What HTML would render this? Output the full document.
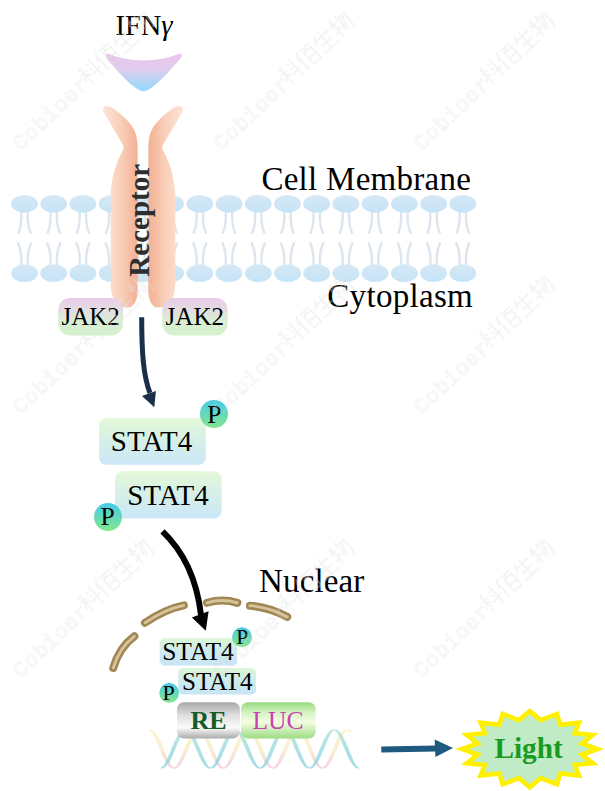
<!DOCTYPE html>
<html><head><meta charset="utf-8">
<style>
html,body{margin:0;padding:0;background:#fff;width:605px;height:791px;overflow:hidden}
svg{display:block}
text{font-family:"Liberation Serif",serif}
text.wm{font-family:"Liberation Mono",monospace}
</style></head>
<body>
<svg width="605" height="791" viewBox="0 0 605 791">
<defs>
  <linearGradient id="ifn" x1="0" y1="0" x2="0" y2="1">
    <stop offset="0" stop-color="#e8c6ea"/><stop offset="0.4" stop-color="#e2ccee"/><stop offset="1" stop-color="#8edcf8"/>
  </linearGradient>
  <linearGradient id="recL" x1="0" y1="0" x2="1" y2="0">
    <stop offset="0" stop-color="#fde4d6"/><stop offset="0.5" stop-color="#f9d0ba"/><stop offset="1" stop-color="#f2b092"/>
  </linearGradient>
  <linearGradient id="recR" x1="0" y1="0" x2="1" y2="0">
    <stop offset="0" stop-color="#f2b092"/><stop offset="0.5" stop-color="#f9d0ba"/><stop offset="1" stop-color="#fde4d6"/>
  </linearGradient>
  <linearGradient id="head" x1="0" y1="0" x2="0" y2="1">
    <stop offset="0" stop-color="#d6e8f4"/><stop offset="1" stop-color="#c5e4f8"/>
  </linearGradient>
  <linearGradient id="jak" x1="0" y1="0" x2="0" y2="1">
    <stop offset="0" stop-color="#eacbe9"/><stop offset="0.35" stop-color="#e2dee2"/><stop offset="0.6" stop-color="#d9eed3"/><stop offset="1" stop-color="#d4f2cc"/>
  </linearGradient>
  <linearGradient id="stat" x1="0" y1="0" x2="0" y2="1">
    <stop offset="0" stop-color="#e4f9d8"/><stop offset="0.5" stop-color="#d6efe8"/><stop offset="1" stop-color="#cbe7f8"/>
  </linearGradient>
  <linearGradient id="pc" x1="0" y1="0" x2="0" y2="1">
    <stop offset="0" stop-color="#44cbe9"/><stop offset="1" stop-color="#84e68c"/>
  </linearGradient>
  <linearGradient id="re" x1="0" y1="0" x2="0" y2="1">
    <stop offset="0" stop-color="#a8a8a8"/><stop offset="0.35" stop-color="#dedede"/><stop offset="0.7" stop-color="#fafafa"/><stop offset="1" stop-color="#ababab"/>
  </linearGradient>
  <linearGradient id="luc" x1="0" y1="0" x2="0" y2="1">
    <stop offset="0" stop-color="#98da80"/><stop offset="0.3" stop-color="#d8f4c4"/><stop offset="0.55" stop-color="#f6fce2"/><stop offset="1" stop-color="#9cdc82"/>
  </linearGradient>
  <linearGradient id="dnaY" x1="0" y1="0" x2="0" y2="1">
    <stop offset="0" stop-color="#fbf4c0"/><stop offset="1" stop-color="#f6cfe0"/>
  </linearGradient>
  <linearGradient id="stats" x1="0" y1="0" x2="0" y2="1">
    <stop offset="0" stop-color="#ddf7d6"/><stop offset="0.4" stop-color="#d0ecea"/><stop offset="1" stop-color="#c7e5f6"/>
  </linearGradient>
</defs>


<g>
<path d="M21.3,208.8 L21.3,219.8 Q20.9,227.8 18.1,233.8" fill="none" stroke="#dde6ef" stroke-width="2.4"/>
<path d="M21.3,268.2 L21.3,257.2 Q20.9,249.2 17.7,242.2" fill="none" stroke="#dde6ef" stroke-width="2.4"/>
<path d="M27.7,208.8 L27.7,219.8 Q28.1,227.8 30.9,233.8" fill="none" stroke="#dde6ef" stroke-width="2.4"/>
<path d="M27.7,268.2 L27.7,257.2 Q28.1,249.2 31.3,242.2" fill="none" stroke="#dde6ef" stroke-width="2.4"/>
<ellipse cx="24.5" cy="203.8" rx="13.4" ry="8.9" fill="url(#head)"/>
<ellipse cx="24.5" cy="273.2" rx="13.4" ry="8.9" fill="url(#head)"/>
<path d="M50.5,208.8 L50.5,219.8 Q50.1,227.8 47.3,233.8" fill="none" stroke="#dde6ef" stroke-width="2.4"/>
<path d="M50.5,268.2 L50.5,257.2 Q50.1,249.2 46.9,242.2" fill="none" stroke="#dde6ef" stroke-width="2.4"/>
<path d="M56.9,208.8 L56.9,219.8 Q57.3,227.8 60.1,233.8" fill="none" stroke="#dde6ef" stroke-width="2.4"/>
<path d="M56.9,268.2 L56.9,257.2 Q57.3,249.2 60.5,242.2" fill="none" stroke="#dde6ef" stroke-width="2.4"/>
<ellipse cx="53.7" cy="203.8" rx="13.4" ry="8.9" fill="url(#head)"/>
<ellipse cx="53.7" cy="273.2" rx="13.4" ry="8.9" fill="url(#head)"/>
<path d="M79.7,208.8 L79.7,219.8 Q79.3,227.8 76.5,233.8" fill="none" stroke="#dde6ef" stroke-width="2.4"/>
<path d="M79.7,268.2 L79.7,257.2 Q79.3,249.2 76.1,242.2" fill="none" stroke="#dde6ef" stroke-width="2.4"/>
<path d="M86.1,208.8 L86.1,219.8 Q86.5,227.8 89.3,233.8" fill="none" stroke="#dde6ef" stroke-width="2.4"/>
<path d="M86.1,268.2 L86.1,257.2 Q86.5,249.2 89.7,242.2" fill="none" stroke="#dde6ef" stroke-width="2.4"/>
<ellipse cx="82.9" cy="203.8" rx="13.4" ry="8.9" fill="url(#head)"/>
<ellipse cx="82.9" cy="273.2" rx="13.4" ry="8.9" fill="url(#head)"/>
<path d="M109.0,208.8 L109.0,219.8 Q108.6,227.8 105.8,233.8" fill="none" stroke="#dde6ef" stroke-width="2.4"/>
<path d="M109.0,268.2 L109.0,257.2 Q108.6,249.2 105.4,242.2" fill="none" stroke="#dde6ef" stroke-width="2.4"/>
<path d="M115.4,208.8 L115.4,219.8 Q115.8,227.8 118.6,233.8" fill="none" stroke="#dde6ef" stroke-width="2.4"/>
<path d="M115.4,268.2 L115.4,257.2 Q115.8,249.2 119.0,242.2" fill="none" stroke="#dde6ef" stroke-width="2.4"/>
<ellipse cx="112.2" cy="203.8" rx="13.4" ry="8.9" fill="url(#head)"/>
<ellipse cx="112.2" cy="273.2" rx="13.4" ry="8.9" fill="url(#head)"/>
<path d="M138.2,208.8 L138.2,219.8 Q137.8,227.8 135.0,233.8" fill="none" stroke="#dde6ef" stroke-width="2.4"/>
<path d="M138.2,268.2 L138.2,257.2 Q137.8,249.2 134.6,242.2" fill="none" stroke="#dde6ef" stroke-width="2.4"/>
<path d="M144.6,208.8 L144.6,219.8 Q145.0,227.8 147.8,233.8" fill="none" stroke="#dde6ef" stroke-width="2.4"/>
<path d="M144.6,268.2 L144.6,257.2 Q145.0,249.2 148.2,242.2" fill="none" stroke="#dde6ef" stroke-width="2.4"/>
<ellipse cx="141.4" cy="203.8" rx="13.4" ry="8.9" fill="url(#head)"/>
<ellipse cx="141.4" cy="273.2" rx="13.4" ry="8.9" fill="url(#head)"/>
<path d="M167.4,208.8 L167.4,219.8 Q167.0,227.8 164.2,233.8" fill="none" stroke="#dde6ef" stroke-width="2.4"/>
<path d="M167.4,268.2 L167.4,257.2 Q167.0,249.2 163.8,242.2" fill="none" stroke="#dde6ef" stroke-width="2.4"/>
<path d="M173.8,208.8 L173.8,219.8 Q174.2,227.8 177.0,233.8" fill="none" stroke="#dde6ef" stroke-width="2.4"/>
<path d="M173.8,268.2 L173.8,257.2 Q174.2,249.2 177.4,242.2" fill="none" stroke="#dde6ef" stroke-width="2.4"/>
<ellipse cx="170.6" cy="203.8" rx="13.4" ry="8.9" fill="url(#head)"/>
<ellipse cx="170.6" cy="273.2" rx="13.4" ry="8.9" fill="url(#head)"/>
<path d="M196.6,208.8 L196.6,219.8 Q196.2,227.8 193.4,233.8" fill="none" stroke="#dde6ef" stroke-width="2.4"/>
<path d="M196.6,268.2 L196.6,257.2 Q196.2,249.2 193.0,242.2" fill="none" stroke="#dde6ef" stroke-width="2.4"/>
<path d="M203.0,208.8 L203.0,219.8 Q203.4,227.8 206.2,233.8" fill="none" stroke="#dde6ef" stroke-width="2.4"/>
<path d="M203.0,268.2 L203.0,257.2 Q203.4,249.2 206.6,242.2" fill="none" stroke="#dde6ef" stroke-width="2.4"/>
<ellipse cx="199.8" cy="203.8" rx="13.4" ry="8.9" fill="url(#head)"/>
<ellipse cx="199.8" cy="273.2" rx="13.4" ry="8.9" fill="url(#head)"/>
<path d="M225.8,208.8 L225.8,219.8 Q225.4,227.8 222.6,233.8" fill="none" stroke="#dde6ef" stroke-width="2.4"/>
<path d="M225.8,268.2 L225.8,257.2 Q225.4,249.2 222.2,242.2" fill="none" stroke="#dde6ef" stroke-width="2.4"/>
<path d="M232.2,208.8 L232.2,219.8 Q232.6,227.8 235.4,233.8" fill="none" stroke="#dde6ef" stroke-width="2.4"/>
<path d="M232.2,268.2 L232.2,257.2 Q232.6,249.2 235.8,242.2" fill="none" stroke="#dde6ef" stroke-width="2.4"/>
<ellipse cx="229.0" cy="203.8" rx="13.4" ry="8.9" fill="url(#head)"/>
<ellipse cx="229.0" cy="273.2" rx="13.4" ry="8.9" fill="url(#head)"/>
<path d="M255.1,208.8 L255.1,219.8 Q254.7,227.8 251.9,233.8" fill="none" stroke="#dde6ef" stroke-width="2.4"/>
<path d="M255.1,268.2 L255.1,257.2 Q254.7,249.2 251.5,242.2" fill="none" stroke="#dde6ef" stroke-width="2.4"/>
<path d="M261.5,208.8 L261.5,219.8 Q261.9,227.8 264.7,233.8" fill="none" stroke="#dde6ef" stroke-width="2.4"/>
<path d="M261.5,268.2 L261.5,257.2 Q261.9,249.2 265.1,242.2" fill="none" stroke="#dde6ef" stroke-width="2.4"/>
<ellipse cx="258.3" cy="203.8" rx="13.4" ry="8.9" fill="url(#head)"/>
<ellipse cx="258.3" cy="273.2" rx="13.4" ry="8.9" fill="url(#head)"/>
<path d="M284.3,208.8 L284.3,219.8 Q283.9,227.8 281.1,233.8" fill="none" stroke="#dde6ef" stroke-width="2.4"/>
<path d="M284.3,268.2 L284.3,257.2 Q283.9,249.2 280.7,242.2" fill="none" stroke="#dde6ef" stroke-width="2.4"/>
<path d="M290.7,208.8 L290.7,219.8 Q291.1,227.8 293.9,233.8" fill="none" stroke="#dde6ef" stroke-width="2.4"/>
<path d="M290.7,268.2 L290.7,257.2 Q291.1,249.2 294.3,242.2" fill="none" stroke="#dde6ef" stroke-width="2.4"/>
<ellipse cx="287.5" cy="203.8" rx="13.4" ry="8.9" fill="url(#head)"/>
<ellipse cx="287.5" cy="273.2" rx="13.4" ry="8.9" fill="url(#head)"/>
<path d="M313.5,208.8 L313.5,219.8 Q313.1,227.8 310.3,233.8" fill="none" stroke="#dde6ef" stroke-width="2.4"/>
<path d="M313.5,268.2 L313.5,257.2 Q313.1,249.2 309.9,242.2" fill="none" stroke="#dde6ef" stroke-width="2.4"/>
<path d="M319.9,208.8 L319.9,219.8 Q320.3,227.8 323.1,233.8" fill="none" stroke="#dde6ef" stroke-width="2.4"/>
<path d="M319.9,268.2 L319.9,257.2 Q320.3,249.2 323.5,242.2" fill="none" stroke="#dde6ef" stroke-width="2.4"/>
<ellipse cx="316.7" cy="203.8" rx="13.4" ry="8.9" fill="url(#head)"/>
<ellipse cx="316.7" cy="273.2" rx="13.4" ry="8.9" fill="url(#head)"/>
<path d="M342.7,208.8 L342.7,219.8 Q342.3,227.8 339.5,233.8" fill="none" stroke="#dde6ef" stroke-width="2.4"/>
<path d="M342.7,268.2 L342.7,257.2 Q342.3,249.2 339.1,242.2" fill="none" stroke="#dde6ef" stroke-width="2.4"/>
<path d="M349.1,208.8 L349.1,219.8 Q349.5,227.8 352.3,233.8" fill="none" stroke="#dde6ef" stroke-width="2.4"/>
<path d="M349.1,268.2 L349.1,257.2 Q349.5,249.2 352.7,242.2" fill="none" stroke="#dde6ef" stroke-width="2.4"/>
<ellipse cx="345.9" cy="203.8" rx="13.4" ry="8.9" fill="url(#head)"/>
<ellipse cx="345.9" cy="273.2" rx="13.4" ry="8.9" fill="url(#head)"/>
<path d="M371.9,208.8 L371.9,219.8 Q371.5,227.8 368.7,233.8" fill="none" stroke="#dde6ef" stroke-width="2.4"/>
<path d="M371.9,268.2 L371.9,257.2 Q371.5,249.2 368.3,242.2" fill="none" stroke="#dde6ef" stroke-width="2.4"/>
<path d="M378.3,208.8 L378.3,219.8 Q378.7,227.8 381.5,233.8" fill="none" stroke="#dde6ef" stroke-width="2.4"/>
<path d="M378.3,268.2 L378.3,257.2 Q378.7,249.2 381.9,242.2" fill="none" stroke="#dde6ef" stroke-width="2.4"/>
<ellipse cx="375.1" cy="203.8" rx="13.4" ry="8.9" fill="url(#head)"/>
<ellipse cx="375.1" cy="273.2" rx="13.4" ry="8.9" fill="url(#head)"/>
<path d="M401.2,208.8 L401.2,219.8 Q400.8,227.8 398.0,233.8" fill="none" stroke="#dde6ef" stroke-width="2.4"/>
<path d="M401.2,268.2 L401.2,257.2 Q400.8,249.2 397.6,242.2" fill="none" stroke="#dde6ef" stroke-width="2.4"/>
<path d="M407.6,208.8 L407.6,219.8 Q408.0,227.8 410.8,233.8" fill="none" stroke="#dde6ef" stroke-width="2.4"/>
<path d="M407.6,268.2 L407.6,257.2 Q408.0,249.2 411.2,242.2" fill="none" stroke="#dde6ef" stroke-width="2.4"/>
<ellipse cx="404.4" cy="203.8" rx="13.4" ry="8.9" fill="url(#head)"/>
<ellipse cx="404.4" cy="273.2" rx="13.4" ry="8.9" fill="url(#head)"/>
<path d="M430.4,208.8 L430.4,219.8 Q430.0,227.8 427.2,233.8" fill="none" stroke="#dde6ef" stroke-width="2.4"/>
<path d="M430.4,268.2 L430.4,257.2 Q430.0,249.2 426.8,242.2" fill="none" stroke="#dde6ef" stroke-width="2.4"/>
<path d="M436.8,208.8 L436.8,219.8 Q437.2,227.8 440.0,233.8" fill="none" stroke="#dde6ef" stroke-width="2.4"/>
<path d="M436.8,268.2 L436.8,257.2 Q437.2,249.2 440.4,242.2" fill="none" stroke="#dde6ef" stroke-width="2.4"/>
<ellipse cx="433.6" cy="203.8" rx="13.4" ry="8.9" fill="url(#head)"/>
<ellipse cx="433.6" cy="273.2" rx="13.4" ry="8.9" fill="url(#head)"/>
<path d="M459.6,208.8 L459.6,219.8 Q459.2,227.8 456.4,233.8" fill="none" stroke="#dde6ef" stroke-width="2.4"/>
<path d="M459.6,268.2 L459.6,257.2 Q459.2,249.2 456.0,242.2" fill="none" stroke="#dde6ef" stroke-width="2.4"/>
<path d="M466.0,208.8 L466.0,219.8 Q466.4,227.8 469.2,233.8" fill="none" stroke="#dde6ef" stroke-width="2.4"/>
<path d="M466.0,268.2 L466.0,257.2 Q466.4,249.2 469.6,242.2" fill="none" stroke="#dde6ef" stroke-width="2.4"/>
<ellipse cx="462.8" cy="203.8" rx="13.4" ry="8.9" fill="url(#head)"/>
<ellipse cx="462.8" cy="273.2" rx="13.4" ry="8.9" fill="url(#head)"/>
</g>

<!-- IFN gamma -->
<text x="115.4" y="35" font-size="28.5">IFN<tspan font-style="italic">γ</tspan></text>
<path d="M107.5,53.5 Q143,67.5 180.5,53.5 Q183,55 180,59 C168,73 153,90 143.5,91.5 C134,90 119,73 107,59 Q104.5,55 107.5,53.5 Z" fill="url(#ifn)"/>

<!-- receptor -->
<path d="M103.5,112.0 Q101.5,106.5 106.6,106.0 Q110.0,106.0 114.0,109.0 C125.0,117.0 132.0,124.0 135.5,133.0 Q137.6,139.0 137.6,150.0 L137.6,290.0 C137.6,300.0 134.0,307.5 128.0,307.5 C119.0,307.5 110.7,300.0 110.7,285.0 L110.7,195.0 C111.5,172.0 119.0,158.0 122.5,151.0 Q124.6,148.0 122.8,144.5 L103.5,112.0 Z" fill="url(#recL)"/>
<path d="M182.4,112.0 Q184.4,106.5 179.3,106.0 Q175.9,106.0 171.9,109.0 C160.9,117.0 153.9,124.0 150.4,133.0 Q148.3,139.0 148.3,150.0 L148.3,290.0 C148.3,300.0 151.9,307.5 157.9,307.5 C166.9,307.5 175.2,300.0 175.2,285.0 L175.2,195.0 C174.4,172.0 166.9,158.0 163.4,151.0 Q161.3,148.0 163.1,144.5 L182.4,112.0 Z" fill="url(#recR)"/>
<text transform="translate(148.6,220.3) rotate(-90)" text-anchor="middle" font-size="29" font-weight="bold" fill="#2e2e2e">Receptor</text>

<text x="261.4" y="190" font-size="33" letter-spacing="0.28">Cell Membrane</text>
<text x="327.3" y="307.2" font-size="33" letter-spacing="0.3">Cytoplasm</text>

<!-- JAK2 -->
<rect x="58.2" y="297.9" width="64.8" height="37.7" rx="12" fill="url(#jak)"/>
<rect x="162.3" y="297.9" width="65.4" height="37.7" rx="12" fill="url(#jak)"/>
<text x="61.5" y="325.2" font-size="25">JAK2</text>
<text x="165.6" y="325.2" font-size="25">JAK2</text>

<!-- arrow 1 -->
<path d="M141.7,317.3 C141.7,350 143,375 150,393" fill="none" stroke="#1b2f4b" stroke-width="5"/>
<path d="M142,396 L155.9,390.9 L154.3,407.3 Z" fill="#1b2f4b"/>

<!-- STAT4 big -->
<rect x="99.1" y="418.2" width="106.7" height="46.6" rx="7" fill="url(#stat)"/>
<text x="110.8" y="451.3" font-size="29">STAT4</text>
<circle cx="214" cy="414" r="14" fill="url(#pc)"/>
<text x="214.3" y="422.6" font-size="25.5" text-anchor="middle">P</text>

<rect x="115" y="471.2" width="106.6" height="47.3" rx="8" fill="url(#stat)"/>
<text x="127.2" y="504.6" font-size="29">STAT4</text>
<circle cx="108" cy="517" r="14" fill="url(#pc)"/>
<text x="107.7" y="525.4" font-size="25.5" text-anchor="middle">P</text>

<!-- black arrow -->
<path d="M162.5,531.3 C179,547 196,572 201,615" fill="none" stroke="#000" stroke-width="6"/>
<path d="M191.9,617.6 L208.6,611.3 L205.8,630.8 Z" fill="#000"/>

<text x="259" y="592.2" font-size="33" letter-spacing="0.15">Nuclear</text>

<!-- nuclear envelope dashes -->
<g fill="none" stroke-linecap="round">
  <g stroke="#a08753" stroke-width="8">
    <path d="M113.3,668 Q119.15,647.45 134.4,636.3"/>
    <path d="M145,622.8 Q165.2,609.1 183.8,605.4"/>
    <path d="M207,602.8 Q222,598.2 237.4,602.8"/>
    <path d="M249.9,605.7 Q269,607.1 287.3,616.9"/>
  </g>
  <g stroke="#d6c49a" stroke-width="2.8">
    <path d="M113.3,668 Q119.15,647.45 134.4,636.3"/>
    <path d="M145,622.8 Q165.2,609.1 183.8,605.4"/>
    <path d="M207,602.8 Q222,598.2 237.4,602.8"/>
    <path d="M249.9,605.7 Q269,607.1 287.3,616.9"/>
  </g>
</g>

<!-- small STAT4 -->
<rect x="159.6" y="638.2" width="77.3" height="27.3" rx="5" fill="url(#stats)"/>
<text x="162.2" y="660.3" font-size="25.5">STAT4</text>
<circle cx="242" cy="637.2" r="10" fill="url(#pc)"/>
<text x="242.2" y="644.4" font-size="21.5" text-anchor="middle">P</text>
<rect x="178.3" y="668" width="77.8" height="26.4" rx="5" fill="url(#stats)"/>
<text x="182.1" y="689.6" font-size="25.1">STAT4</text>

<linearGradient id="dnaP" gradientUnits="userSpaceOnUse" x1="0" y1="729" x2="0" y2="769"><stop offset="0" stop-color="#f8f0b4"/><stop offset="0.5" stop-color="#f8ecc8"/><stop offset="1" stop-color="#f2c4da"/></linearGradient>
<linearGradient id="dnaC" gradientUnits="userSpaceOnUse" x1="0" y1="729" x2="0" y2="769"><stop offset="0" stop-color="#a6dcd4"/><stop offset="1" stop-color="#7ccfe0"/></linearGradient>
<path d="M149.8,730.7 L150.2,731.0 L150.6,731.2 L151.0,731.5 L151.4,731.9 L151.7,732.4 L152.1,732.9 L152.5,733.5 L152.9,734.1 L153.4,734.8 L153.8,735.6 L154.2,736.4 L154.6,737.3 L155.1,738.2 L155.5,739.2 L155.9,740.2 L156.4,741.3 L156.9,742.4 L157.3,743.5 L157.8,744.7 L158.3,745.8 L158.8,747.0 L159.2,748.2 L159.7,749.4 L160.2,750.6 L160.8,751.8 L161.3,753.0 L161.8,754.2 L162.3,755.4 L162.8,756.5 L163.4,757.6 L163.9,758.7 L164.5,759.8 L165.0,760.8 L165.6,761.7 L166.2,762.6 L166.7,763.5 L167.3,764.3 L167.9,765.1 L168.5,765.8 L169.1,766.4 L169.7,766.9 L170.3,767.4 L170.9,767.8 L171.5,768.2 L172.2,768.4 L172.8,768.5 L173.4,768.6 L174.0,768.5 L174.6,768.6 L175.2,768.5 L175.8,768.4 L176.5,768.2 L177.1,767.8 L177.7,767.4 L178.3,766.9 L178.9,766.4 L179.5,765.8 L180.1,765.1 L180.7,764.3 L181.3,763.5 L181.8,762.6 L182.4,761.7 L183.0,760.8 L183.5,759.8 L184.1,758.7 L184.6,757.6 L185.2,756.5 L185.7,755.4 L186.2,754.2 L186.7,753.0 L187.2,751.8 L187.8,750.6 L188.3,749.4 L188.8,748.2 L189.2,747.0 L189.7,745.8 L190.2,744.7 L190.7,743.5 L191.1,742.4 L191.6,741.3 L192.1,740.2 L192.5,739.2 L192.9,738.2 L193.4,737.3 L193.8,736.4 L194.2,735.6 L194.6,734.8 L195.1,734.1 L195.5,733.5 L195.9,732.9 L196.3,732.4 L196.6,731.9 L197.0,731.5 L197.4,731.2 L197.8,731.0 L198.2,730.7 L198.5,730.6 L199.0,730.6 L199.3,730.7 L199.7,731.0 L200.1,731.2 L200.5,731.5 L200.9,731.9 L201.2,732.4 L201.6,732.9 L202.0,733.5 L202.4,734.1 L202.9,734.8 L203.3,735.6 L203.7,736.4 L204.1,737.3 L204.6,738.2 L205.0,739.2 L205.4,740.2 L205.9,741.3 L206.4,742.4 L206.8,743.5 L207.3,744.7 L207.8,745.8 L208.3,747.0 L208.7,748.2 L209.2,749.4 L209.7,750.6 L210.3,751.8 L210.8,753.0 L211.3,754.2 L211.8,755.4 L212.3,756.5 L212.9,757.6 L213.4,758.7 L214.0,759.8 L214.5,760.8 L215.1,761.7 L215.7,762.6 L216.2,763.5 L216.8,764.3 L217.4,765.1 L218.0,765.8 L218.6,766.4 L219.2,766.9 L219.8,767.4 L220.4,767.8 L221.0,768.2 L221.7,768.4 L222.3,768.5 L222.9,768.6 L223.5,768.5 L224.1,768.6 L224.7,768.5 L225.3,768.4 L226.0,768.2 L226.6,767.8 L227.2,767.4 L227.8,766.9 L228.4,766.4 L229.0,765.8 L229.6,765.1 L230.2,764.3 L230.8,763.5 L231.3,762.6 L231.9,761.7 L232.5,760.8 L233.0,759.8 L233.6,758.7 L234.1,757.6 L234.7,756.5 L235.2,755.4 L235.7,754.2 L236.2,753.0 L236.7,751.8 L237.3,750.6 L237.8,749.4 L238.3,748.2 L238.7,747.0 L239.2,745.8 L239.7,744.7 L240.2,743.5 L240.6,742.4 L241.1,741.3 L241.6,740.2 L242.0,739.2 L242.4,738.2 L242.9,737.3 L243.3,736.4 L243.7,735.6 L244.1,734.8 L244.6,734.1 L245.0,733.5 L245.4,732.9 L245.8,732.4 L246.1,731.9 L246.5,731.5 L246.9,731.2 L247.3,731.0 L247.7,730.7 L248.0,730.6 L248.5,730.6 L248.8,730.7 L249.2,731.0 L249.6,731.2 L250.0,731.5 L250.4,731.9 L250.7,732.4 L251.1,732.9 L251.5,733.5 L251.9,734.1 L252.4,734.8 L252.8,735.6 L253.2,736.4 L253.6,737.3 L254.1,738.2 L254.5,739.2 L254.9,740.2 L255.4,741.3 L255.9,742.4 L256.3,743.5 L256.8,744.7 L257.3,745.8 L257.8,747.0 L258.2,748.2 L258.7,749.4 L259.2,750.6 L259.8,751.8 L260.3,753.0 L260.8,754.2 L261.3,755.4 L261.8,756.5 L262.4,757.6 L262.9,758.7 L263.5,759.8 L264.0,760.8 L264.6,761.7 L265.2,762.6 L265.7,763.5 L266.3,764.3 L266.9,765.1 L267.5,765.8 L268.1,766.4 L268.7,766.9 L269.3,767.4 L269.9,767.8 L270.5,768.2 L271.2,768.4 L271.8,768.5 L272.4,768.6 L273.0,768.5 L273.6,768.6 L274.2,768.5 L274.8,768.4 L275.5,768.2 L276.1,767.8 L276.7,767.4 L277.3,766.9 L277.9,766.4 L278.5,765.8 L279.1,765.1 L279.7,764.3 L280.3,763.5 L280.8,762.6 L281.4,761.7 L282.0,760.8 L282.5,759.8 L283.1,758.7 L283.6,757.6 L284.2,756.5 L284.7,755.4 L285.2,754.2 L285.7,753.0 L286.2,751.8 L286.8,750.6 L287.3,749.4 L287.8,748.2 L288.2,747.0 L288.7,745.8 L289.2,744.7 L289.7,743.5 L290.1,742.4 L290.6,741.3 L291.1,740.2 L291.5,739.2 L291.9,738.2 L292.4,737.3 L292.8,736.4 L293.2,735.6 L293.6,734.8 L294.1,734.1 L294.5,733.5 L294.9,732.9 L295.3,732.4 L295.6,731.9 L296.0,731.5 L296.4,731.2 L296.8,731.0 L297.2,730.7 L297.5,730.6 L298.0,730.6 L298.3,730.7 L298.7,731.0 L299.1,731.2 L299.5,731.5 L299.9,731.9 L300.2,732.4 L300.6,732.9 L301.0,733.5 L301.4,734.1 L301.9,734.8 L302.3,735.6 L302.7,736.4 L303.1,737.3 L303.6,738.2 L304.0,739.2 L304.4,740.2 L304.9,741.3 L305.4,742.4 L305.8,743.5 L306.3,744.7 L306.8,745.8 L307.3,747.0 L307.7,748.2 L308.2,749.4 L308.7,750.6 L309.3,751.8 L309.8,753.0 L310.3,754.2 L310.8,755.4 L311.3,756.5 L311.9,757.6 L312.4,758.7 L313.0,759.8 L313.5,760.8 L314.1,761.7 L314.7,762.6 L315.2,763.5 L315.8,764.3 L316.4,765.1 L317.0,765.8 L317.6,766.4 L318.2,766.9 L318.8,767.4 L319.4,767.8 L320.0,768.2 L320.7,768.4 L321.3,768.5 L321.9,768.6 L322.5,768.5 L323.1,768.6 L323.7,768.5 L324.3,768.4 L325.0,768.2 L325.6,767.8 L326.2,767.4 L326.8,766.9 L327.4,766.4 L328.0,765.8 L328.6,765.1 L329.2,764.3 L329.8,763.5 L330.3,762.6 L330.9,761.7 L331.5,760.8 L332.0,759.8 L332.6,758.7 L333.1,757.6 L333.7,756.5 L334.2,755.4 L334.7,754.2 L335.2,753.0 L335.7,751.8 L336.3,750.6 L336.8,749.4 L337.3,748.2 L337.7,747.0 L338.2,745.8 L338.7,744.7 L339.2,743.5 L339.6,742.4 L340.1,741.3 L340.6,740.2 L341.0,739.2 L341.4,738.2 L341.9,737.3 L342.3,736.4 L342.7,735.6 L343.1,734.8 L343.6,734.1 L344.0,733.5 L344.4,732.9 L344.8,732.4 L345.1,731.9 L345.5,731.5 L345.9,731.2 L346.3,731.0 L346.7,730.7 L347.0,730.6 L347.5,730.6 L347.8,730.7 L348.2,731.0 L348.6,731.2 L349.0,731.5 L349.4,731.9 L349.7,732.4 L350.1,732.9 L351.9,731.3 L351.3,730.8 L350.6,730.4 L350.0,730.0 L349.4,729.7 L348.8,729.5 L348.2,729.4 L347.5,729.4 L347.0,729.4 L346.3,729.4 L345.7,729.5 L345.1,729.7 L344.5,730.0 L343.9,730.4 L343.2,730.8 L342.6,731.3 L342.0,731.9 L341.4,732.6 L340.9,733.3 L340.3,734.1 L339.7,734.9 L339.1,735.8 L338.6,736.7 L338.0,737.7 L337.4,738.8 L336.9,739.8 L336.4,740.9 L335.8,742.1 L335.3,743.2 L334.8,744.4 L334.3,745.6 L333.7,746.8 L333.2,748.0 L332.7,749.2 L332.3,750.4 L331.8,751.6 L331.3,752.7 L330.8,753.9 L330.3,755.0 L329.9,756.2 L329.4,757.2 L329.0,758.3 L328.5,759.3 L328.1,760.2 L327.7,761.1 L327.2,762.0 L326.8,762.8 L326.4,763.5 L326.0,764.2 L325.6,764.8 L325.2,765.4 L324.8,765.9 L324.4,766.3 L324.0,766.6 L323.7,766.9 L323.3,767.2 L322.9,767.3 L322.5,767.5 L322.1,767.3 L321.7,767.2 L321.3,766.9 L321.0,766.6 L320.6,766.3 L320.2,765.9 L319.8,765.4 L319.4,764.8 L319.0,764.2 L318.6,763.5 L318.2,762.8 L317.8,762.0 L317.3,761.1 L316.9,760.2 L316.5,759.3 L316.0,758.3 L315.6,757.2 L315.1,756.2 L314.7,755.0 L314.2,753.9 L313.7,752.7 L313.2,751.6 L312.7,750.4 L312.3,749.2 L311.8,748.0 L311.3,746.8 L310.7,745.6 L310.2,744.4 L309.7,743.2 L309.2,742.1 L308.6,740.9 L308.1,739.8 L307.6,738.8 L307.0,737.7 L306.4,736.7 L305.9,735.8 L305.3,734.9 L304.7,734.1 L304.1,733.3 L303.6,732.6 L303.0,731.9 L302.4,731.3 L301.8,730.8 L301.1,730.4 L300.5,730.0 L299.9,729.7 L299.3,729.5 L298.7,729.4 L298.0,729.4 L297.5,729.4 L296.8,729.4 L296.2,729.5 L295.6,729.7 L295.0,730.0 L294.4,730.4 L293.7,730.8 L293.1,731.3 L292.5,731.9 L291.9,732.6 L291.4,733.3 L290.8,734.1 L290.2,734.9 L289.6,735.8 L289.1,736.7 L288.5,737.7 L287.9,738.8 L287.4,739.8 L286.9,740.9 L286.3,742.1 L285.8,743.2 L285.3,744.4 L284.8,745.6 L284.2,746.8 L283.7,748.0 L283.2,749.2 L282.8,750.4 L282.3,751.6 L281.8,752.7 L281.3,753.9 L280.8,755.0 L280.4,756.2 L279.9,757.2 L279.5,758.3 L279.0,759.3 L278.6,760.2 L278.2,761.1 L277.7,762.0 L277.3,762.8 L276.9,763.5 L276.5,764.2 L276.1,764.8 L275.7,765.4 L275.3,765.9 L274.9,766.3 L274.5,766.6 L274.2,766.9 L273.8,767.2 L273.4,767.3 L273.0,767.5 L272.6,767.3 L272.2,767.2 L271.8,766.9 L271.5,766.6 L271.1,766.3 L270.7,765.9 L270.3,765.4 L269.9,764.8 L269.5,764.2 L269.1,763.5 L268.7,762.8 L268.3,762.0 L267.8,761.1 L267.4,760.2 L267.0,759.3 L266.5,758.3 L266.1,757.2 L265.6,756.2 L265.2,755.0 L264.7,753.9 L264.2,752.7 L263.7,751.6 L263.2,750.4 L262.8,749.2 L262.3,748.0 L261.8,746.8 L261.2,745.6 L260.7,744.4 L260.2,743.2 L259.7,742.1 L259.1,740.9 L258.6,739.8 L258.1,738.8 L257.5,737.7 L256.9,736.7 L256.4,735.8 L255.8,734.9 L255.2,734.1 L254.6,733.3 L254.1,732.6 L253.5,731.9 L252.9,731.3 L252.3,730.8 L251.6,730.4 L251.0,730.0 L250.4,729.7 L249.8,729.5 L249.2,729.4 L248.5,729.4 L248.0,729.4 L247.3,729.4 L246.7,729.5 L246.1,729.7 L245.5,730.0 L244.9,730.4 L244.2,730.8 L243.6,731.3 L243.0,731.9 L242.4,732.6 L241.9,733.3 L241.3,734.1 L240.7,734.9 L240.1,735.8 L239.6,736.7 L239.0,737.7 L238.4,738.8 L237.9,739.8 L237.4,740.9 L236.8,742.1 L236.3,743.2 L235.8,744.4 L235.3,745.6 L234.7,746.8 L234.2,748.0 L233.7,749.2 L233.3,750.4 L232.8,751.6 L232.3,752.7 L231.8,753.9 L231.3,755.0 L230.9,756.2 L230.4,757.2 L230.0,758.3 L229.5,759.3 L229.1,760.2 L228.7,761.1 L228.2,762.0 L227.8,762.8 L227.4,763.5 L227.0,764.2 L226.6,764.8 L226.2,765.4 L225.8,765.9 L225.4,766.3 L225.0,766.6 L224.7,766.9 L224.3,767.2 L223.9,767.3 L223.5,767.5 L223.1,767.3 L222.7,767.2 L222.3,766.9 L222.0,766.6 L221.6,766.3 L221.2,765.9 L220.8,765.4 L220.4,764.8 L220.0,764.2 L219.6,763.5 L219.2,762.8 L218.8,762.0 L218.3,761.1 L217.9,760.2 L217.5,759.3 L217.0,758.3 L216.6,757.2 L216.1,756.2 L215.7,755.0 L215.2,753.9 L214.7,752.7 L214.2,751.6 L213.7,750.4 L213.3,749.2 L212.8,748.0 L212.3,746.8 L211.7,745.6 L211.2,744.4 L210.7,743.2 L210.2,742.1 L209.6,740.9 L209.1,739.8 L208.6,738.8 L208.0,737.7 L207.4,736.7 L206.9,735.8 L206.3,734.9 L205.7,734.1 L205.1,733.3 L204.6,732.6 L204.0,731.9 L203.4,731.3 L202.8,730.8 L202.1,730.4 L201.5,730.0 L200.9,729.7 L200.3,729.5 L199.7,729.4 L199.0,729.4 L198.5,729.4 L197.8,729.4 L197.2,729.5 L196.6,729.7 L196.0,730.0 L195.4,730.4 L194.7,730.8 L194.1,731.3 L193.5,731.9 L192.9,732.6 L192.4,733.3 L191.8,734.1 L191.2,734.9 L190.6,735.8 L190.1,736.7 L189.5,737.7 L188.9,738.8 L188.4,739.8 L187.9,740.9 L187.3,742.1 L186.8,743.2 L186.3,744.4 L185.8,745.6 L185.2,746.8 L184.7,748.0 L184.2,749.2 L183.8,750.4 L183.3,751.6 L182.8,752.7 L182.3,753.9 L181.8,755.0 L181.4,756.2 L180.9,757.2 L180.5,758.3 L180.0,759.3 L179.6,760.2 L179.2,761.1 L178.7,762.0 L178.3,762.8 L177.9,763.5 L177.5,764.2 L177.1,764.8 L176.7,765.4 L176.3,765.9 L175.9,766.3 L175.5,766.6 L175.2,766.9 L174.8,767.2 L174.4,767.3 L174.0,767.5 L173.6,767.3 L173.2,767.2 L172.8,766.9 L172.5,766.6 L172.1,766.3 L171.7,765.9 L171.3,765.4 L170.9,764.8 L170.5,764.2 L170.1,763.5 L169.7,762.8 L169.3,762.0 L168.8,761.1 L168.4,760.2 L168.0,759.3 L167.5,758.3 L167.1,757.2 L166.6,756.2 L166.2,755.0 L165.7,753.9 L165.2,752.7 L164.7,751.6 L164.2,750.4 L163.8,749.2 L163.3,748.0 L162.8,746.8 L162.2,745.6 L161.7,744.4 L161.2,743.2 L160.7,742.1 L160.1,740.9 L159.6,739.8 L159.1,738.8 L158.5,737.7 L157.9,736.7 L157.4,735.8 L156.8,734.9 L156.2,734.1 L155.6,733.3 L155.1,732.6 L154.5,731.9 L153.9,731.3 L153.3,730.8 L152.6,730.4 L152.0,730.0 L151.4,729.7 L150.8,729.5 L150.2,729.4 Z" fill="url(#dnaP)" opacity="0.8"/>
<path d="M161.0,768.5 L161.6,768.6 L162.2,768.5 L162.8,768.4 L163.5,768.2 L164.1,767.8 L164.7,767.4 L165.3,766.9 L165.9,766.4 L166.5,765.8 L167.1,765.1 L167.7,764.3 L168.3,763.5 L168.8,762.6 L169.4,761.7 L170.0,760.8 L170.5,759.8 L171.1,758.7 L171.6,757.6 L172.2,756.5 L172.7,755.4 L173.2,754.2 L173.7,753.0 L174.2,751.8 L174.8,750.6 L175.3,749.4 L175.8,748.2 L176.2,747.0 L176.7,745.8 L177.2,744.7 L177.7,743.5 L178.1,742.4 L178.6,741.3 L179.1,740.2 L179.5,739.2 L179.9,738.2 L180.4,737.3 L180.8,736.4 L181.2,735.6 L181.6,734.8 L182.1,734.1 L182.5,733.5 L182.9,732.9 L183.3,732.4 L183.6,731.9 L184.0,731.5 L184.4,731.2 L184.8,731.0 L185.2,730.7 L185.5,730.6 L186.0,730.6 L186.3,730.7 L186.7,731.0 L187.1,731.2 L187.5,731.5 L187.9,731.9 L188.2,732.4 L188.6,732.9 L189.0,733.5 L189.4,734.1 L189.9,734.8 L190.3,735.6 L190.7,736.4 L191.1,737.3 L191.6,738.2 L192.0,739.2 L192.4,740.2 L192.9,741.3 L193.4,742.4 L193.8,743.5 L194.3,744.7 L194.8,745.8 L195.3,747.0 L195.7,748.2 L196.2,749.4 L196.7,750.6 L197.3,751.8 L197.8,753.0 L198.3,754.2 L198.8,755.4 L199.3,756.5 L199.9,757.6 L200.4,758.7 L201.0,759.8 L201.5,760.8 L202.1,761.7 L202.7,762.6 L203.2,763.5 L203.8,764.3 L204.4,765.1 L205.0,765.8 L205.6,766.4 L206.2,766.9 L206.8,767.4 L207.4,767.8 L208.0,768.2 L208.7,768.4 L209.3,768.5 L209.9,768.6 L210.5,768.5 L211.1,768.6 L211.7,768.5 L212.3,768.4 L213.0,768.2 L213.6,767.8 L214.2,767.4 L214.8,766.9 L215.4,766.4 L216.0,765.8 L216.6,765.1 L217.2,764.3 L217.8,763.5 L218.3,762.6 L218.9,761.7 L219.5,760.8 L220.0,759.8 L220.6,758.7 L221.1,757.6 L221.7,756.5 L222.2,755.4 L222.7,754.2 L223.2,753.0 L223.7,751.8 L224.3,750.6 L224.8,749.4 L225.3,748.2 L225.7,747.0 L226.2,745.8 L226.7,744.7 L227.2,743.5 L227.6,742.4 L228.1,741.3 L228.6,740.2 L229.0,739.2 L229.4,738.2 L229.9,737.3 L230.3,736.4 L230.7,735.6 L231.1,734.8 L231.6,734.1 L232.0,733.5 L232.4,732.9 L232.8,732.4 L233.1,731.9 L233.5,731.5 L233.9,731.2 L234.3,731.0 L234.7,730.7 L235.0,730.6 L235.5,730.6 L235.8,730.7 L236.2,731.0 L236.6,731.2 L237.0,731.5 L237.4,731.9 L237.7,732.4 L238.1,732.9 L238.5,733.5 L238.9,734.1 L239.4,734.8 L239.8,735.6 L240.2,736.4 L240.6,737.3 L241.1,738.2 L241.5,739.2 L241.9,740.2 L242.4,741.3 L242.9,742.4 L243.3,743.5 L243.8,744.7 L244.3,745.8 L244.8,747.0 L245.2,748.2 L245.7,749.4 L246.2,750.6 L246.8,751.8 L247.3,753.0 L247.8,754.2 L248.3,755.4 L248.8,756.5 L249.4,757.6 L249.9,758.7 L250.5,759.8 L251.0,760.8 L251.6,761.7 L252.2,762.6 L252.7,763.5 L253.3,764.3 L253.9,765.1 L254.5,765.8 L255.1,766.4 L255.7,766.9 L256.3,767.4 L256.9,767.8 L257.5,768.2 L258.2,768.4 L258.8,768.5 L259.4,768.6 L260.0,768.5 L260.6,768.6 L261.2,768.5 L261.8,768.4 L262.5,768.2 L263.1,767.8 L263.7,767.4 L264.3,766.9 L264.9,766.4 L265.5,765.8 L266.1,765.1 L266.7,764.3 L267.3,763.5 L267.8,762.6 L268.4,761.7 L269.0,760.8 L269.5,759.8 L270.1,758.7 L270.6,757.6 L271.2,756.5 L271.7,755.4 L272.2,754.2 L272.7,753.0 L273.2,751.8 L273.8,750.6 L274.3,749.4 L274.8,748.2 L275.2,747.0 L275.7,745.8 L276.2,744.7 L276.7,743.5 L277.1,742.4 L277.6,741.3 L278.1,740.2 L278.5,739.2 L278.9,738.2 L279.4,737.3 L279.8,736.4 L280.2,735.6 L280.6,734.8 L281.1,734.1 L281.5,733.5 L281.9,732.9 L282.3,732.4 L282.6,731.9 L283.0,731.5 L283.4,731.2 L283.8,731.0 L284.2,730.7 L284.5,730.6 L285.0,730.6 L285.3,730.7 L285.7,731.0 L286.1,731.2 L286.5,731.5 L286.9,731.9 L287.2,732.4 L287.6,732.9 L288.0,733.5 L288.4,734.1 L288.9,734.8 L289.3,735.6 L289.7,736.4 L290.1,737.3 L290.6,738.2 L291.0,739.2 L291.4,740.2 L291.9,741.3 L292.4,742.4 L292.8,743.5 L293.3,744.7 L293.8,745.8 L294.3,747.0 L294.7,748.2 L295.2,749.4 L295.7,750.6 L296.3,751.8 L296.8,753.0 L297.3,754.2 L297.8,755.4 L298.3,756.5 L298.9,757.6 L299.4,758.7 L300.0,759.8 L300.5,760.8 L301.1,761.7 L301.7,762.6 L302.2,763.5 L302.8,764.3 L303.4,765.1 L304.0,765.8 L304.6,766.4 L305.2,766.9 L305.8,767.4 L306.4,767.8 L307.0,768.2 L307.7,768.4 L308.3,768.5 L308.9,768.6 L309.5,768.5 L310.1,768.6 L310.7,768.5 L311.3,768.4 L312.0,768.2 L312.6,767.8 L313.2,767.4 L313.8,766.9 L314.4,766.4 L315.0,765.8 L315.6,765.1 L316.2,764.3 L316.8,763.5 L317.3,762.6 L317.9,761.7 L318.5,760.8 L319.0,759.8 L319.6,758.7 L320.1,757.6 L320.7,756.5 L321.2,755.4 L321.7,754.2 L322.2,753.0 L322.7,751.8 L323.3,750.6 L323.8,749.4 L324.3,748.2 L324.7,747.0 L325.2,745.8 L325.7,744.7 L326.2,743.5 L326.6,742.4 L327.1,741.3 L327.6,740.2 L328.0,739.2 L328.4,738.2 L328.9,737.3 L329.3,736.4 L329.7,735.6 L330.1,734.8 L330.6,734.1 L331.0,733.5 L331.4,732.9 L331.8,732.4 L332.1,731.9 L332.5,731.5 L332.9,731.2 L333.3,731.0 L333.7,730.7 L334.0,730.6 L334.5,730.6 L334.8,730.7 L335.2,731.0 L335.6,731.2 L336.0,731.5 L336.4,731.9 L336.7,732.4 L337.1,732.9 L337.5,733.5 L337.9,734.1 L338.4,734.8 L338.8,735.6 L339.2,736.4 L339.6,737.3 L340.1,738.2 L340.5,739.2 L340.9,740.2 L341.4,741.3 L341.9,742.4 L342.3,743.5 L342.8,744.7 L343.3,745.8 L343.8,747.0 L344.2,748.2 L344.7,749.4 L345.2,750.6 L345.8,751.8 L346.3,753.0 L346.8,754.2 L347.3,755.4 L347.8,756.5 L348.4,757.6 L348.9,758.7 L349.5,759.8 L350.0,760.8 L350.6,761.7 L351.2,762.6 L351.7,763.5 L352.3,764.3 L352.9,765.1 L353.5,765.8 L354.1,766.4 L354.7,766.9 L355.3,767.4 L355.9,767.8 L356.5,768.2 L357.2,768.4 L357.8,768.5 L358.4,768.6 L359.0,768.5 L359.0,767.5 L358.6,767.3 L358.2,767.2 L357.8,766.9 L357.5,766.6 L357.1,766.3 L356.7,765.9 L356.3,765.4 L355.9,764.8 L355.5,764.2 L355.1,763.5 L354.7,762.8 L354.3,762.0 L353.8,761.1 L353.4,760.2 L353.0,759.3 L352.5,758.3 L352.1,757.2 L351.6,756.2 L351.2,755.0 L350.7,753.9 L350.2,752.7 L349.7,751.6 L349.2,750.4 L348.8,749.2 L348.3,748.0 L347.8,746.8 L347.2,745.6 L346.7,744.4 L346.2,743.2 L345.7,742.1 L345.1,740.9 L344.6,739.8 L344.1,738.8 L343.5,737.7 L342.9,736.7 L342.4,735.8 L341.8,734.9 L341.2,734.1 L340.6,733.3 L340.1,732.6 L339.5,731.9 L338.9,731.3 L338.3,730.8 L337.6,730.4 L337.0,730.0 L336.4,729.7 L335.8,729.5 L335.2,729.4 L334.5,729.4 L334.0,729.4 L333.3,729.4 L332.7,729.5 L332.1,729.7 L331.5,730.0 L330.9,730.4 L330.2,730.8 L329.6,731.3 L329.0,731.9 L328.4,732.6 L327.9,733.3 L327.3,734.1 L326.7,734.9 L326.1,735.8 L325.6,736.7 L325.0,737.7 L324.4,738.8 L323.9,739.8 L323.4,740.9 L322.8,742.1 L322.3,743.2 L321.8,744.4 L321.3,745.6 L320.7,746.8 L320.2,748.0 L319.7,749.2 L319.3,750.4 L318.8,751.6 L318.3,752.7 L317.8,753.9 L317.3,755.0 L316.9,756.2 L316.4,757.2 L316.0,758.3 L315.5,759.3 L315.1,760.2 L314.7,761.1 L314.2,762.0 L313.8,762.8 L313.4,763.5 L313.0,764.2 L312.6,764.8 L312.2,765.4 L311.8,765.9 L311.4,766.3 L311.0,766.6 L310.7,766.9 L310.3,767.2 L309.9,767.3 L309.5,767.5 L309.1,767.3 L308.7,767.2 L308.3,766.9 L308.0,766.6 L307.6,766.3 L307.2,765.9 L306.8,765.4 L306.4,764.8 L306.0,764.2 L305.6,763.5 L305.2,762.8 L304.8,762.0 L304.3,761.1 L303.9,760.2 L303.5,759.3 L303.0,758.3 L302.6,757.2 L302.1,756.2 L301.7,755.0 L301.2,753.9 L300.7,752.7 L300.2,751.6 L299.7,750.4 L299.3,749.2 L298.8,748.0 L298.3,746.8 L297.7,745.6 L297.2,744.4 L296.7,743.2 L296.2,742.1 L295.6,740.9 L295.1,739.8 L294.6,738.8 L294.0,737.7 L293.4,736.7 L292.9,735.8 L292.3,734.9 L291.7,734.1 L291.1,733.3 L290.6,732.6 L290.0,731.9 L289.4,731.3 L288.8,730.8 L288.1,730.4 L287.5,730.0 L286.9,729.7 L286.3,729.5 L285.7,729.4 L285.0,729.4 L284.5,729.4 L283.8,729.4 L283.2,729.5 L282.6,729.7 L282.0,730.0 L281.4,730.4 L280.7,730.8 L280.1,731.3 L279.5,731.9 L278.9,732.6 L278.4,733.3 L277.8,734.1 L277.2,734.9 L276.6,735.8 L276.1,736.7 L275.5,737.7 L274.9,738.8 L274.4,739.8 L273.9,740.9 L273.3,742.1 L272.8,743.2 L272.3,744.4 L271.8,745.6 L271.2,746.8 L270.7,748.0 L270.2,749.2 L269.8,750.4 L269.3,751.6 L268.8,752.7 L268.3,753.9 L267.8,755.0 L267.4,756.2 L266.9,757.2 L266.5,758.3 L266.0,759.3 L265.6,760.2 L265.2,761.1 L264.7,762.0 L264.3,762.8 L263.9,763.5 L263.5,764.2 L263.1,764.8 L262.7,765.4 L262.3,765.9 L261.9,766.3 L261.5,766.6 L261.2,766.9 L260.8,767.2 L260.4,767.3 L260.0,767.5 L259.6,767.3 L259.2,767.2 L258.8,766.9 L258.5,766.6 L258.1,766.3 L257.7,765.9 L257.3,765.4 L256.9,764.8 L256.5,764.2 L256.1,763.5 L255.7,762.8 L255.3,762.0 L254.8,761.1 L254.4,760.2 L254.0,759.3 L253.5,758.3 L253.1,757.2 L252.6,756.2 L252.2,755.0 L251.7,753.9 L251.2,752.7 L250.7,751.6 L250.2,750.4 L249.8,749.2 L249.3,748.0 L248.8,746.8 L248.2,745.6 L247.7,744.4 L247.2,743.2 L246.7,742.1 L246.1,740.9 L245.6,739.8 L245.1,738.8 L244.5,737.7 L243.9,736.7 L243.4,735.8 L242.8,734.9 L242.2,734.1 L241.6,733.3 L241.1,732.6 L240.5,731.9 L239.9,731.3 L239.3,730.8 L238.6,730.4 L238.0,730.0 L237.4,729.7 L236.8,729.5 L236.2,729.4 L235.5,729.4 L235.0,729.4 L234.3,729.4 L233.7,729.5 L233.1,729.7 L232.5,730.0 L231.9,730.4 L231.2,730.8 L230.6,731.3 L230.0,731.9 L229.4,732.6 L228.9,733.3 L228.3,734.1 L227.7,734.9 L227.1,735.8 L226.6,736.7 L226.0,737.7 L225.4,738.8 L224.9,739.8 L224.4,740.9 L223.8,742.1 L223.3,743.2 L222.8,744.4 L222.3,745.6 L221.7,746.8 L221.2,748.0 L220.7,749.2 L220.3,750.4 L219.8,751.6 L219.3,752.7 L218.8,753.9 L218.3,755.0 L217.9,756.2 L217.4,757.2 L217.0,758.3 L216.5,759.3 L216.1,760.2 L215.7,761.1 L215.2,762.0 L214.8,762.8 L214.4,763.5 L214.0,764.2 L213.6,764.8 L213.2,765.4 L212.8,765.9 L212.4,766.3 L212.0,766.6 L211.7,766.9 L211.3,767.2 L210.9,767.3 L210.5,767.5 L210.1,767.3 L209.7,767.2 L209.3,766.9 L209.0,766.6 L208.6,766.3 L208.2,765.9 L207.8,765.4 L207.4,764.8 L207.0,764.2 L206.6,763.5 L206.2,762.8 L205.8,762.0 L205.3,761.1 L204.9,760.2 L204.5,759.3 L204.0,758.3 L203.6,757.2 L203.1,756.2 L202.7,755.0 L202.2,753.9 L201.7,752.7 L201.2,751.6 L200.7,750.4 L200.3,749.2 L199.8,748.0 L199.3,746.8 L198.7,745.6 L198.2,744.4 L197.7,743.2 L197.2,742.1 L196.6,740.9 L196.1,739.8 L195.6,738.8 L195.0,737.7 L194.4,736.7 L193.9,735.8 L193.3,734.9 L192.7,734.1 L192.1,733.3 L191.6,732.6 L191.0,731.9 L190.4,731.3 L189.8,730.8 L189.1,730.4 L188.5,730.0 L187.9,729.7 L187.3,729.5 L186.7,729.4 L186.0,729.4 L185.5,729.4 L184.8,729.4 L184.2,729.5 L183.6,729.7 L183.0,730.0 L182.4,730.4 L181.7,730.8 L181.1,731.3 L180.5,731.9 L179.9,732.6 L179.4,733.3 L178.8,734.1 L178.2,734.9 L177.6,735.8 L177.1,736.7 L176.5,737.7 L175.9,738.8 L175.4,739.8 L174.9,740.9 L174.3,742.1 L173.8,743.2 L173.3,744.4 L172.8,745.6 L172.2,746.8 L171.7,748.0 L171.2,749.2 L170.8,750.4 L170.3,751.6 L169.8,752.7 L169.3,753.9 L168.8,755.0 L168.4,756.2 L167.9,757.2 L167.5,758.3 L167.0,759.3 L166.6,760.2 L166.2,761.1 L165.7,762.0 L165.3,762.8 L164.9,763.5 L164.5,764.2 L164.1,764.8 L163.7,765.4 L163.3,765.9 L162.9,766.3 L162.5,766.6 L162.2,766.9 L161.8,767.2 L161.4,767.3 L161.0,767.5 Z" fill="url(#dnaC)" opacity="0.72"/>

<!-- RE LUC -->
<rect x="177" y="702.2" width="62.9" height="36.4" rx="7" fill="url(#re)"/>
<rect x="241" y="702.3" width="74.7" height="36.3" rx="7" fill="url(#luc)"/>
<text x="190.6" y="729" font-size="26" font-weight="bold" fill="#155a28">RE</text>
<text x="252.4" y="729" font-size="25.6" fill="#c940b5">LUC</text>
<circle cx="169.2" cy="692.9" r="9.9" fill="url(#pc)"/>
<text x="168.6" y="700.1" font-size="22" text-anchor="middle">P</text>

<!-- blue arrow -->
<path d="M381.3,749.5 L436,748.5" stroke="#1e5a80" stroke-width="5.9" fill="none"/>
<path d="M434.7,739.6 L453,748 L435.4,757 Z" fill="#1e5a80"/>

<path d="M455.3,749.1 L472.9,742.8 L461.0,733.3 L481.6,731.2 L477.1,720.0 L497.6,722.3 L501.3,711.0 L518.5,717.5 L529.8,707.9 L541.1,717.5 L558.3,711.0 L562.0,722.3 L582.5,720.0 L578.0,731.2 L598.6,733.3 L586.7,742.8 L604.3,749.1 L586.7,755.4 L598.6,764.9 L578.0,767.0 L582.5,778.2 L562.0,775.9 L558.3,787.2 L541.1,780.7 L529.8,790.3 L518.5,780.7 L501.3,787.2 L497.6,775.9 L477.1,778.2 L481.6,767.0 L461.0,764.9 L472.9,755.4 Z" fill="#fef000"/>
<path d="M469.0,749.1 L482.3,744.4 L472.7,736.8 L488.1,735.2 L484.2,725.4 L500.8,727.3 L504.2,717.0 L519.4,722.8 L529.8,713.9 L540.2,722.8 L555.4,717.0 L558.8,727.3 L575.4,725.4 L571.5,735.2 L586.9,736.8 L577.3,744.4 L590.6,749.1 L577.3,753.8 L586.9,761.4 L571.5,763.0 L575.4,772.8 L558.8,770.9 L555.4,781.2 L540.2,775.4 L529.8,784.3 L519.4,775.4 L504.2,781.2 L500.8,770.9 L484.2,772.8 L488.1,763.0 L472.7,761.4 L482.3,753.8 Z" fill="#c0ebc6"/>
<text x="494.4" y="758" font-size="29.3" font-weight="bold" fill="#1a9a20">Light</text>
<g fill="none" opacity="0.45">
<g transform="translate(21.0,151.5) rotate(-43.4)">
<text x="0" y="0" class="wm" font-size="21.5" letter-spacing="0.8" stroke="#d8d8d8" stroke-width="0.7" fill="none">Cobioer</text>
<path transform="translate(94.0,0) scale(1.06)" d="M7,-19 L2,-17 M1,-13 L9,-13 M5,-17 L5,1 M5,-12 L1,-5 M6,-10 L9,-7 M12,-17 L14,-15 M12,-12 L14,-10 M10,-6 L21,-8 M17,-20 L17,1" stroke="#e2e2e2" stroke-width="1.5"/>
<path transform="translate(117.0,0) scale(1.06)" d="M5,-20 L1,-12 M3,-15 L3,1 M8,-18 L21,-18 M14,-18 L12,-14 M10,-14 L19,-14 L19,0 L10,0 Z M10,-7 L19,-7" stroke="#e2e2e2" stroke-width="1.5"/>
<path transform="translate(140.0,0) scale(1.06)" d="M6,-19 L2,-11 M4,-14 L19,-14 M5,-7 L18,-7 M1,0 L21,0 M11,-20 L11,0" stroke="#e2e2e2" stroke-width="1.5"/>
<path transform="translate(163.0,0) scale(1.06)" d="M4,-19 L2,-14 M1,-13 L8,-14 M5,-20 L5,1 M1,-5 L9,-9 M12,-20 L10,-14 M11,-16 L20,-16 L19,-2 Q19,0 17,0 M14,-15 L10,-4 M17,-15 L12,-2" stroke="#e2e2e2" stroke-width="1.5"/>
</g>
<g transform="translate(21.0,415.1) rotate(-43.4)">
<text x="0" y="0" class="wm" font-size="21.5" letter-spacing="0.8" stroke="#d8d8d8" stroke-width="0.7" fill="none">Cobioer</text>
<path transform="translate(94.0,0) scale(1.06)" d="M7,-19 L2,-17 M1,-13 L9,-13 M5,-17 L5,1 M5,-12 L1,-5 M6,-10 L9,-7 M12,-17 L14,-15 M12,-12 L14,-10 M10,-6 L21,-8 M17,-20 L17,1" stroke="#e2e2e2" stroke-width="1.5"/>
<path transform="translate(117.0,0) scale(1.06)" d="M5,-20 L1,-12 M3,-15 L3,1 M8,-18 L21,-18 M14,-18 L12,-14 M10,-14 L19,-14 L19,0 L10,0 Z M10,-7 L19,-7" stroke="#e2e2e2" stroke-width="1.5"/>
<path transform="translate(140.0,0) scale(1.06)" d="M6,-19 L2,-11 M4,-14 L19,-14 M5,-7 L18,-7 M1,0 L21,0 M11,-20 L11,0" stroke="#e2e2e2" stroke-width="1.5"/>
<path transform="translate(163.0,0) scale(1.06)" d="M4,-19 L2,-14 M1,-13 L8,-14 M5,-20 L5,1 M1,-5 L9,-9 M12,-20 L10,-14 M11,-16 L20,-16 L19,-2 Q19,0 17,0 M14,-15 L10,-4 M17,-15 L12,-2" stroke="#e2e2e2" stroke-width="1.5"/>
</g>
<g transform="translate(21.0,678.7) rotate(-43.4)">
<text x="0" y="0" class="wm" font-size="21.5" letter-spacing="0.8" stroke="#d8d8d8" stroke-width="0.7" fill="none">Cobioer</text>
<path transform="translate(94.0,0) scale(1.06)" d="M7,-19 L2,-17 M1,-13 L9,-13 M5,-17 L5,1 M5,-12 L1,-5 M6,-10 L9,-7 M12,-17 L14,-15 M12,-12 L14,-10 M10,-6 L21,-8 M17,-20 L17,1" stroke="#e2e2e2" stroke-width="1.5"/>
<path transform="translate(117.0,0) scale(1.06)" d="M5,-20 L1,-12 M3,-15 L3,1 M8,-18 L21,-18 M14,-18 L12,-14 M10,-14 L19,-14 L19,0 L10,0 Z M10,-7 L19,-7" stroke="#e2e2e2" stroke-width="1.5"/>
<path transform="translate(140.0,0) scale(1.06)" d="M6,-19 L2,-11 M4,-14 L19,-14 M5,-7 L18,-7 M1,0 L21,0 M11,-20 L11,0" stroke="#e2e2e2" stroke-width="1.5"/>
<path transform="translate(163.0,0) scale(1.06)" d="M4,-19 L2,-14 M1,-13 L8,-14 M5,-20 L5,1 M1,-5 L9,-9 M12,-20 L10,-14 M11,-16 L20,-16 L19,-2 Q19,0 17,0 M14,-15 L10,-4 M17,-15 L12,-2" stroke="#e2e2e2" stroke-width="1.5"/>
</g>
<g transform="translate(221.5,151.5) rotate(-43.4)">
<text x="0" y="0" class="wm" font-size="21.5" letter-spacing="0.8" stroke="#d8d8d8" stroke-width="0.7" fill="none">Cobioer</text>
<path transform="translate(94.0,0) scale(1.06)" d="M7,-19 L2,-17 M1,-13 L9,-13 M5,-17 L5,1 M5,-12 L1,-5 M6,-10 L9,-7 M12,-17 L14,-15 M12,-12 L14,-10 M10,-6 L21,-8 M17,-20 L17,1" stroke="#e2e2e2" stroke-width="1.5"/>
<path transform="translate(117.0,0) scale(1.06)" d="M5,-20 L1,-12 M3,-15 L3,1 M8,-18 L21,-18 M14,-18 L12,-14 M10,-14 L19,-14 L19,0 L10,0 Z M10,-7 L19,-7" stroke="#e2e2e2" stroke-width="1.5"/>
<path transform="translate(140.0,0) scale(1.06)" d="M6,-19 L2,-11 M4,-14 L19,-14 M5,-7 L18,-7 M1,0 L21,0 M11,-20 L11,0" stroke="#e2e2e2" stroke-width="1.5"/>
<path transform="translate(163.0,0) scale(1.06)" d="M4,-19 L2,-14 M1,-13 L8,-14 M5,-20 L5,1 M1,-5 L9,-9 M12,-20 L10,-14 M11,-16 L20,-16 L19,-2 Q19,0 17,0 M14,-15 L10,-4 M17,-15 L12,-2" stroke="#e2e2e2" stroke-width="1.5"/>
</g>
<g transform="translate(221.5,415.1) rotate(-43.4)">
<text x="0" y="0" class="wm" font-size="21.5" letter-spacing="0.8" stroke="#d8d8d8" stroke-width="0.7" fill="none">Cobioer</text>
<path transform="translate(94.0,0) scale(1.06)" d="M7,-19 L2,-17 M1,-13 L9,-13 M5,-17 L5,1 M5,-12 L1,-5 M6,-10 L9,-7 M12,-17 L14,-15 M12,-12 L14,-10 M10,-6 L21,-8 M17,-20 L17,1" stroke="#e2e2e2" stroke-width="1.5"/>
<path transform="translate(117.0,0) scale(1.06)" d="M5,-20 L1,-12 M3,-15 L3,1 M8,-18 L21,-18 M14,-18 L12,-14 M10,-14 L19,-14 L19,0 L10,0 Z M10,-7 L19,-7" stroke="#e2e2e2" stroke-width="1.5"/>
<path transform="translate(140.0,0) scale(1.06)" d="M6,-19 L2,-11 M4,-14 L19,-14 M5,-7 L18,-7 M1,0 L21,0 M11,-20 L11,0" stroke="#e2e2e2" stroke-width="1.5"/>
<path transform="translate(163.0,0) scale(1.06)" d="M4,-19 L2,-14 M1,-13 L8,-14 M5,-20 L5,1 M1,-5 L9,-9 M12,-20 L10,-14 M11,-16 L20,-16 L19,-2 Q19,0 17,0 M14,-15 L10,-4 M17,-15 L12,-2" stroke="#e2e2e2" stroke-width="1.5"/>
</g>
<g transform="translate(221.5,678.7) rotate(-43.4)">
<text x="0" y="0" class="wm" font-size="21.5" letter-spacing="0.8" stroke="#d8d8d8" stroke-width="0.7" fill="none">Cobioer</text>
<path transform="translate(94.0,0) scale(1.06)" d="M7,-19 L2,-17 M1,-13 L9,-13 M5,-17 L5,1 M5,-12 L1,-5 M6,-10 L9,-7 M12,-17 L14,-15 M12,-12 L14,-10 M10,-6 L21,-8 M17,-20 L17,1" stroke="#e2e2e2" stroke-width="1.5"/>
<path transform="translate(117.0,0) scale(1.06)" d="M5,-20 L1,-12 M3,-15 L3,1 M8,-18 L21,-18 M14,-18 L12,-14 M10,-14 L19,-14 L19,0 L10,0 Z M10,-7 L19,-7" stroke="#e2e2e2" stroke-width="1.5"/>
<path transform="translate(140.0,0) scale(1.06)" d="M6,-19 L2,-11 M4,-14 L19,-14 M5,-7 L18,-7 M1,0 L21,0 M11,-20 L11,0" stroke="#e2e2e2" stroke-width="1.5"/>
<path transform="translate(163.0,0) scale(1.06)" d="M4,-19 L2,-14 M1,-13 L8,-14 M5,-20 L5,1 M1,-5 L9,-9 M12,-20 L10,-14 M11,-16 L20,-16 L19,-2 Q19,0 17,0 M14,-15 L10,-4 M17,-15 L12,-2" stroke="#e2e2e2" stroke-width="1.5"/>
</g>
<g transform="translate(422.0,151.5) rotate(-43.4)">
<text x="0" y="0" class="wm" font-size="21.5" letter-spacing="0.8" stroke="#d8d8d8" stroke-width="0.7" fill="none">Cobioer</text>
<path transform="translate(94.0,0) scale(1.06)" d="M7,-19 L2,-17 M1,-13 L9,-13 M5,-17 L5,1 M5,-12 L1,-5 M6,-10 L9,-7 M12,-17 L14,-15 M12,-12 L14,-10 M10,-6 L21,-8 M17,-20 L17,1" stroke="#e2e2e2" stroke-width="1.5"/>
<path transform="translate(117.0,0) scale(1.06)" d="M5,-20 L1,-12 M3,-15 L3,1 M8,-18 L21,-18 M14,-18 L12,-14 M10,-14 L19,-14 L19,0 L10,0 Z M10,-7 L19,-7" stroke="#e2e2e2" stroke-width="1.5"/>
<path transform="translate(140.0,0) scale(1.06)" d="M6,-19 L2,-11 M4,-14 L19,-14 M5,-7 L18,-7 M1,0 L21,0 M11,-20 L11,0" stroke="#e2e2e2" stroke-width="1.5"/>
<path transform="translate(163.0,0) scale(1.06)" d="M4,-19 L2,-14 M1,-13 L8,-14 M5,-20 L5,1 M1,-5 L9,-9 M12,-20 L10,-14 M11,-16 L20,-16 L19,-2 Q19,0 17,0 M14,-15 L10,-4 M17,-15 L12,-2" stroke="#e2e2e2" stroke-width="1.5"/>
</g>
<g transform="translate(422.0,415.1) rotate(-43.4)">
<text x="0" y="0" class="wm" font-size="21.5" letter-spacing="0.8" stroke="#d8d8d8" stroke-width="0.7" fill="none">Cobioer</text>
<path transform="translate(94.0,0) scale(1.06)" d="M7,-19 L2,-17 M1,-13 L9,-13 M5,-17 L5,1 M5,-12 L1,-5 M6,-10 L9,-7 M12,-17 L14,-15 M12,-12 L14,-10 M10,-6 L21,-8 M17,-20 L17,1" stroke="#e2e2e2" stroke-width="1.5"/>
<path transform="translate(117.0,0) scale(1.06)" d="M5,-20 L1,-12 M3,-15 L3,1 M8,-18 L21,-18 M14,-18 L12,-14 M10,-14 L19,-14 L19,0 L10,0 Z M10,-7 L19,-7" stroke="#e2e2e2" stroke-width="1.5"/>
<path transform="translate(140.0,0) scale(1.06)" d="M6,-19 L2,-11 M4,-14 L19,-14 M5,-7 L18,-7 M1,0 L21,0 M11,-20 L11,0" stroke="#e2e2e2" stroke-width="1.5"/>
<path transform="translate(163.0,0) scale(1.06)" d="M4,-19 L2,-14 M1,-13 L8,-14 M5,-20 L5,1 M1,-5 L9,-9 M12,-20 L10,-14 M11,-16 L20,-16 L19,-2 Q19,0 17,0 M14,-15 L10,-4 M17,-15 L12,-2" stroke="#e2e2e2" stroke-width="1.5"/>
</g>
<g transform="translate(422.0,678.7) rotate(-43.4)">
<text x="0" y="0" class="wm" font-size="21.5" letter-spacing="0.8" stroke="#d8d8d8" stroke-width="0.7" fill="none">Cobioer</text>
<path transform="translate(94.0,0) scale(1.06)" d="M7,-19 L2,-17 M1,-13 L9,-13 M5,-17 L5,1 M5,-12 L1,-5 M6,-10 L9,-7 M12,-17 L14,-15 M12,-12 L14,-10 M10,-6 L21,-8 M17,-20 L17,1" stroke="#e2e2e2" stroke-width="1.5"/>
<path transform="translate(117.0,0) scale(1.06)" d="M5,-20 L1,-12 M3,-15 L3,1 M8,-18 L21,-18 M14,-18 L12,-14 M10,-14 L19,-14 L19,0 L10,0 Z M10,-7 L19,-7" stroke="#e2e2e2" stroke-width="1.5"/>
<path transform="translate(140.0,0) scale(1.06)" d="M6,-19 L2,-11 M4,-14 L19,-14 M5,-7 L18,-7 M1,0 L21,0 M11,-20 L11,0" stroke="#e2e2e2" stroke-width="1.5"/>
<path transform="translate(163.0,0) scale(1.06)" d="M4,-19 L2,-14 M1,-13 L8,-14 M5,-20 L5,1 M1,-5 L9,-9 M12,-20 L10,-14 M11,-16 L20,-16 L19,-2 Q19,0 17,0 M14,-15 L10,-4 M17,-15 L12,-2" stroke="#e2e2e2" stroke-width="1.5"/>
</g>
</g>
</svg>
</body></html>
